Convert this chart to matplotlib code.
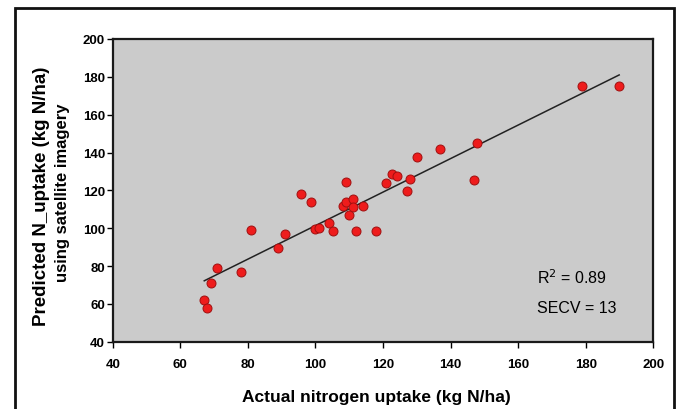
import matplotlib
matplotlib.use("Agg")
import matplotlib.pyplot as plt
from matplotlib.patches import Rectangle

actual = [67.0, 67.9, 69.1, 70.9, 78.1, 81.0, 89.0, 90.9, 95.8, 98.8, 99.9, 101.0,
          103.9, 105.1, 109.0, 108.1, 109.0, 111.0, 111.0, 109.9, 111.9, 114.1, 117.8,
          120.8, 122.8, 124.0, 127.0, 128.0, 130.1, 136.9, 146.9, 147.8, 178.8, 189.8]
predicted = [62.0, 57.8, 70.9, 79.0, 76.7, 98.9, 89.4, 96.8, 118.2, 113.7, 99.6, 99.9,
             102.7, 98.5, 124.2, 111.9, 114.0, 115.4, 111.4, 107.0, 98.5, 111.7, 98.5,
             123.9, 128.6, 127.8, 119.8, 126.2, 137.6, 141.8, 125.5, 145.2, 175.3, 175.3]
fit_x = [67.1, 189.9]
fit_y = [72.2, 181.0]
ticks = [40, 60, 80, 100, 120, 140, 160, 180, 200]
stats = ["R$^2$ = 0.89", "SECV = 13"]

plt.rcParams['font.family'] = ['Liberation Sans', 'DejaVu Sans']

fig = plt.figure(figsize=(6.77, 4.10), dpi=100)
W, H = 677, 410
ax = fig.add_axes([112.7 / W, 1 - 342.7 / H, (653.3 - 112.7) / W, (342.7 - 40) / H])
ax.set_facecolor('#cbcbcb')

ax.plot(fit_x, fit_y, color='#222222', lw=1.1, zorder=2)
ax.scatter(actual, predicted, s=42, color='#ee1c1c', edgecolors='#a01010',
           linewidths=0.7, zorder=3)

ax.set_xlim(40, 200)
ax.set_ylim(40, 200)
ax.set_xticks(ticks)
ax.set_yticks(ticks)
ax.tick_params(direction='out', length=4, width=1, labelsize=9.5)
for lab in ax.get_xticklabels() + ax.get_yticklabels():
    lab.set_fontweight('bold')
ax.tick_params(axis='x', pad=7.5)
ax.tick_params(axis='y', pad=1.5)
for sp in ax.spines.values():
    sp.set_linewidth(1.6)
    sp.set_color('#1a1a1a')

ax.text(165.6, 74.2, stats[0], fontsize=11.5, va='center', ha='left')
ax.text(165.6, 58.3, stats[1], fontsize=11.5, va='center', ha='left')

fig.text(376 / W, 1 - 398 / H, "Actual nitrogen uptake (kg N/ha)",
         fontsize=12.5, fontweight='bold', ha='center', va='center')
fig.text(42 / W, 1 - 196 / H, "Predicted N_uptake (kg N/ha)",
         fontsize=13.5, fontweight='bold', ha='center', va='center', rotation=90)
fig.text(63 / W, 1 - 193 / H, "using satellite imagery",
         fontsize=12, fontweight='bold', ha='center', va='center', rotation=90)

fig.patches.append(Rectangle((15 / W, -0.05), (674 - 15) / W, 1.05 - 9 / H,
                             transform=fig.transFigure, fill=False,
                             edgecolor='#111111', lw=2))

fig.savefig("out.png", dpi=100)
